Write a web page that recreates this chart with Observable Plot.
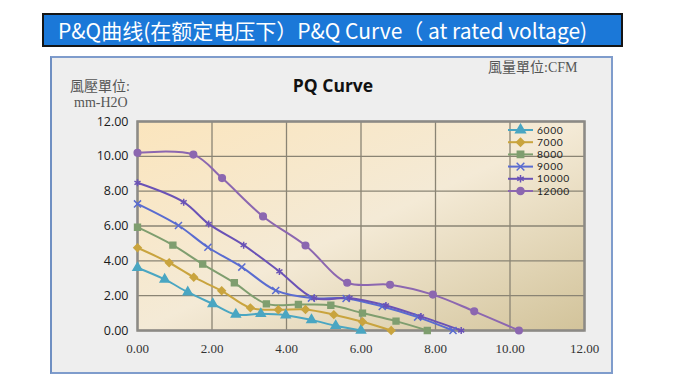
<!DOCTYPE html>
<html><head><meta charset="utf-8">
<script src="https://cdn.jsdelivr.net/npm/d3@7"></script>
<script src="https://cdn.jsdelivr.net/npm/@observablehq/plot@0.6"></script>
<style>
body{margin:0;width:680px;height:380px;background:#fff;position:relative;overflow:hidden;font-family:"Open Sans",sans-serif}
#title{position:absolute;left:42px;top:13px;width:563px;height:30px;background:#1b78d8;border:2px solid #151515;color:#fff;font-family:"Noto Sans CJK SC",sans-serif;font-size:21px;line-height:30px;padding-left:14px;white-space:nowrap;box-sizing:content-box;overflow:hidden}
#box{position:absolute;left:50px;top:56px;width:559px;height:314px;background:#eeeeee;border:2px solid #7f9ccc;border-left-color:#6f8fc2}
#chart{position:absolute;left:51px;top:57px}
.lbl{position:absolute;font-family:"Liberation Serif","Noto Sans CJK TC",serif;color:#555;font-size:14px;line-height:14px;white-space:nowrap}
#ptitle{position:absolute;left:233px;top:73px;width:200px;text-align:center;font-family:"Open Sans",sans-serif;font-weight:bold;font-size:17.5px;color:#111}
#legend{position:absolute;left:506px;top:123px}
</style></head>
<body>
<div id="title">P&amp;Q曲线(在额定电压下）P&amp;Q Curve（ at rated voltage)</div>
<div id="box"></div>
<div id="chart"></div>
<div id="ptitle">PQ Curve</div>
<div class="lbl" style="left:70px;top:80px;">風壓單位:</div>
<div class="lbl" style="left:74px;top:96px;">mm-H2O</div>
<div class="lbl" style="left:488px;top:61px;">風量單位:CFM</div>
<div id="legend"></div>
<script>
// ---- data ----
const seriesNames = ["6000", "7000", "8000", "9000", "10000", "12000"];
const seriesColors = ["#4aa6c2", "#c9a43e", "#7f9e6f", "#5a6cd0", "#6a52b6", "#8c67b0"];
const seriesSymbols = ["triangle", "diamond2", "square", "times", "asterisk", "circle"];

const flow6000 = [0, 0.73, 1.35, 2.02, 2.64, 3.31, 3.98, 4.67, 5.32, 6.0];
const pres6000 = [3.6, 2.93, 2.2, 1.53, 0.92, 0.96, 0.88, 0.61, 0.27, 0];
const flow7000 = [0, 0.85, 1.51, 2.26, 3.03, 3.78, 4.51, 5.27, 6.04, 6.81];
const pres7000 = [4.75, 3.89, 3.06, 2.28, 1.3, 1.19, 1.21, 0.91, 0.5, 0];
const flow8000 = [0, 0.95, 1.75, 2.6, 3.46, 4.32, 5.19, 6.04, 6.94, 7.78];
const pres8000 = [5.93, 4.9, 3.81, 2.74, 1.53, 1.49, 1.45, 1.0, 0.54, 0];
const flow9000 = [0, 1.1, 1.89, 2.8, 3.71, 4.67, 5.6, 6.57, 7.52, 8.47];
const pres9000 = [7.27, 6.03, 4.78, 3.64, 2.3, 1.86, 1.84, 1.38, 0.77, 0];
const flow10000 = [0, 1.24, 1.91, 2.85, 3.81, 4.74, 5.69, 6.67, 7.61, 8.69];
const pres10000 = [8.48, 7.37, 6.12, 4.9, 3.39, 1.86, 1.87, 1.44, 0.81, 0];
const flow12000 = [0, 1.5, 2.27, 3.37, 4.51, 5.63, 6.78, 7.93, 9.04, 10.24];
const pres12000 = [10.2, 10.1, 8.75, 6.55, 4.88, 2.74, 2.63, 2.06, 1.1, 0];

const xTicks = [0, 2, 4, 6, 8, 10, 12];
const yTicks = [0, 2, 4, 6, 8, 10, 12];

const flows = [flow6000, flow7000, flow8000, flow9000, flow10000, flow12000];
const pressures = [pres6000, pres7000, pres8000, pres9000, pres10000, pres12000];

const rows = [];
seriesNames.forEach((s, i) => flows[i].forEach((q, j) => rows.push({series: s, q, p: pressures[i][j]})));

const plot = Plot.plot({
  width: 561, height: 316,
  marginLeft: 86, marginRight: 28, marginTop: 64, marginBottom: 43,
  style: {background: "transparent", overflow: "visible"},
  x: {domain: [0, 12]},
  y: {domain: [0, 12]},
  color: {domain: seriesNames, range: seriesColors},
  symbol: {domain: seriesNames, range: seriesSymbols},
  marks: [
    Plot.frame({fill: "url(#bgGrad)", stroke: null}),
    Plot.gridX(xTicks, {stroke: "#8a8474", strokeOpacity: 1, strokeWidth: 1.3}),
    Plot.gridY(yTicks, {stroke: "#8a8474", strokeOpacity: 1, strokeWidth: 1.3}),
    Plot.frame({stroke: "#8c8a86", strokeWidth: 2.5}),
    Plot.axisX(xTicks, {tickSize: 0, tickPadding: 13, tickFormat: d => d.toFixed(2), label: null,
      fontSize: 13, fontFamily: "Liberation Serif", fill: "#333"}),
    Plot.axisY(yTicks, {tickSize: 0, tickPadding: 9, tickFormat: d => d.toFixed(2), label: null,
      fontSize: 12.5, fontFamily: "Open Sans", fill: "#1a1a1a"}),
    Plot.line(rows, {x: "q", y: "p", z: "series", stroke: "series", strokeWidth: 2, curve: "catmull-rom"}),
    Plot.dot(rows, {x: "q", y: "p", symbol: "series", fill: "series", stroke: "series", strokeWidth: 1.5, r: 3.3})
  ]
});
const svg = d3.select(plot);
const defs = svg.insert("defs", ":first-child");
const g = defs.append("linearGradient").attr("id", "bgGrad").attr("x1", "0").attr("y1", "0").attr("x2", "1").attr("y2", "1");
g.append("stop").attr("offset", "0").attr("stop-color", "#fbe5bd");
g.append("stop").attr("offset", "0.5").attr("stop-color", "#f4ead6");
g.append("stop").attr("offset", "1").attr("stop-color", "#d2c39a");
document.getElementById("chart").appendChild(plot);

// legend
const leg = d3.select("#legend").append("svg").attr("width", 80).attr("height", 80);
const symMap = {triangle: d3.symbolTriangle, diamond2: d3.symbolDiamond2, square: d3.symbolSquare,
  times: d3.symbolTimes, asterisk: d3.symbolAsterisk, circle: d3.symbolCircle};
seriesNames.forEach((s, i) => {
  const y = 7 + i * 12.2;
  const c = seriesColors[i];
  leg.append("line").attr("x1", 2).attr("x2", 27).attr("y1", y).attr("y2", y).attr("stroke", c).attr("stroke-width", 2);
  leg.append("path").attr("d", d3.symbol(symMap[seriesSymbols[i]], 40)()).attr("transform", `translate(14.5,${y})`)
    .attr("fill", c).attr("stroke", c).attr("stroke-width", 1.5);
  leg.append("text").attr("x", 31).attr("y", y).attr("dy", "0.35em").attr("font-size", 10.3)
    .attr("letter-spacing", "0.6px").attr("font-family", "Lato").attr("fill", "#222").text(s);
});
</script>
</body></html>
